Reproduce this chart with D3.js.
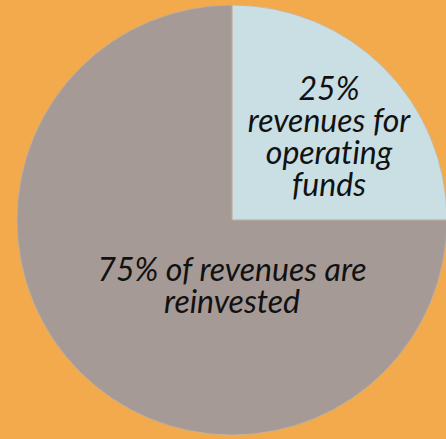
<!DOCTYPE html>
<html><head><meta charset="utf-8">
<script src="https://cdn.jsdelivr.net/npm/d3@7"></script>
<style>html,body{margin:0;padding:0;background:#F2AA4C;}svg{display:block;}text{font-variant-ligatures:none;font-feature-settings:"liga" 0;}</style>
</head><body>
<script>
const categories = ["operating", "reinvested"];
const values = [25, 75];
const colors = ["#C9DFE4", "#A69A96"];
const labels = [
  ["25%", "revenues for", "operating", "funds"],
  ["75% of revenues are", "reinvested"]
];

const W = 446, H = 439, cx = 232, cy = 220, R = 215;
const svg = d3.select("body").append("svg").attr("width", W).attr("height", H);
svg.append("rect").attr("width", W).attr("height", H).attr("fill", "#F2AA4C");
const g = svg.append("g").attr("transform", `translate(${cx},${cy})`);
const pie = d3.pie().sort(null).value(d => d)(values);
const arc = d3.arc().innerRadius(0).outerRadius(R);
g.selectAll("path").data(pie).join("path")
  .attr("d", arc).attr("fill", (d, i) => colors[i])
  .attr("stroke", "#C4B39C").attr("stroke-width", 0.8);

const labelPos = [[97, -83], [0, 66]];
const lh = 32;
pie.forEach((d, i) => {
  const lines = labels[i];
  const t = g.append("text")
    .attr("text-anchor", "middle")
    .attr("font-family", "Lato")
    .attr("font-style", "italic")
    .attr("font-size", 32)
    .attr("fill", "#111");
  const y0 = labelPos[i][1] - (lines.length - 1) * lh / 2;
  lines.forEach((l, k) => {
    t.append("tspan").attr("x", labelPos[i][0]).attr("y", y0 + k * lh).attr("dy", "0.35em").text(l);
  });
});
</script>
</body></html>
